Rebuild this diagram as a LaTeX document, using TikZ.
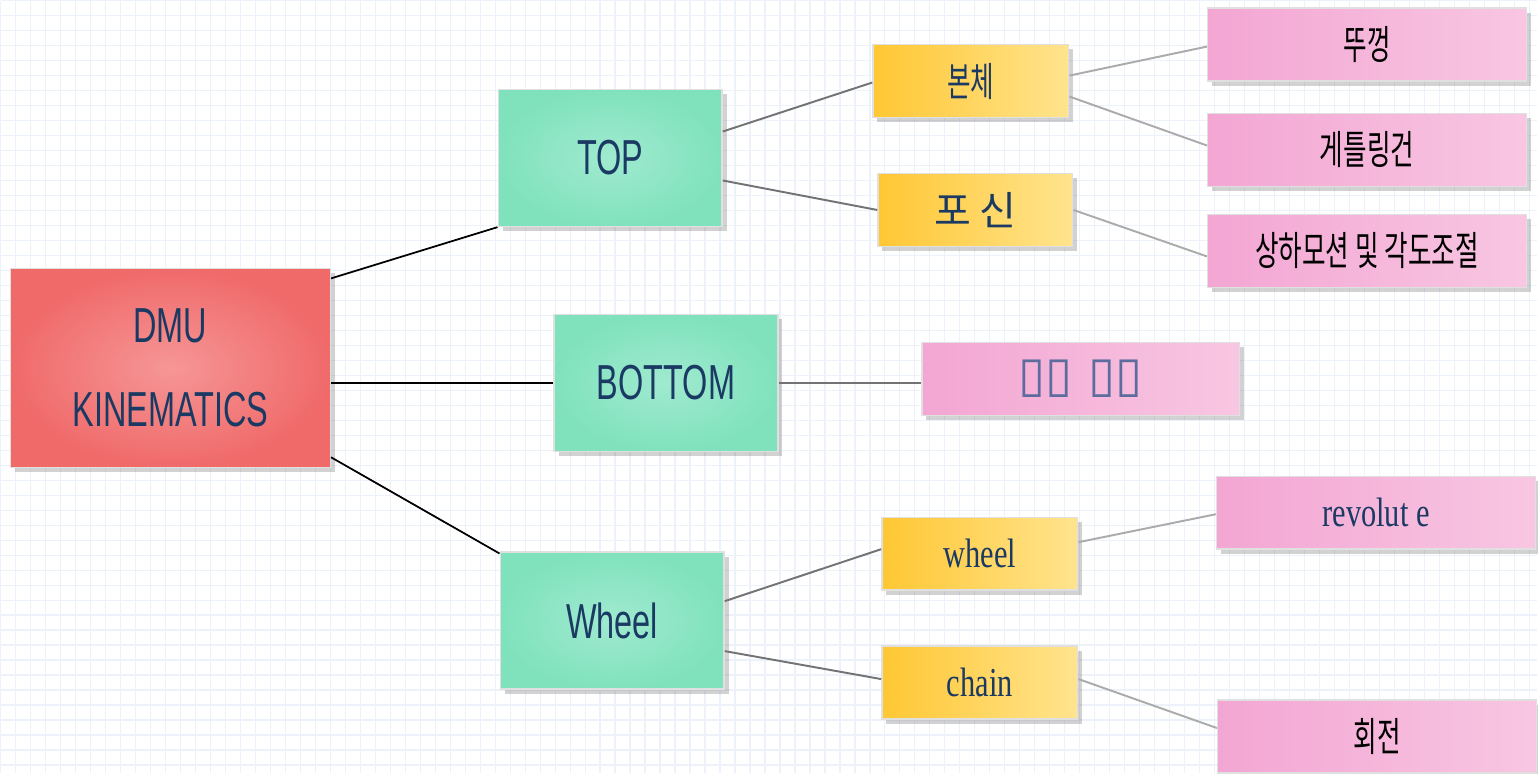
\documentclass[tikz,border=0pt]{standalone}
\usepackage{fontspec}
\usepackage{tikz}
\usetikzlibrary{shadows}
\newfontfamily\condsans[FakeStretch=0.66]{Liberation Sans}
\newfontfamily\condserif[FakeStretch=0.74]{Liberation Serif}
\newfontfamily\kr{Noto Sans CJK KR}
\newfontfamily\krcond[FakeStretch=0.64]{Noto Sans CJK KR}
\newfontfamily\symb{DejaVu Sans}

\definecolor{navy}{HTML}{1B3A63}
\definecolor{redA}{HTML}{F06A6A}
\definecolor{redB}{HTML}{F69696}
\definecolor{tealA}{HTML}{80E2BD}
\definecolor{tealB}{HTML}{A0EAD0}
\definecolor{yelA}{HTML}{FFC733}
\definecolor{yelB}{HTML}{FFE48E}
\definecolor{pinkA}{HTML}{F3A6D3}
\definecolor{pinkB}{HTML}{F8C6E2}
\definecolor{gridc}{HTML}{EDF1FA}
\definecolor{tofuc}{HTML}{5C6C9C}

\tikzset{
	box/.style={inner sep=0pt, draw=black!12, line width=0.4pt,
		drop shadow={shadow xshift=0.045cm, shadow yshift=-0.045cm, opacity=0.25, fill=black!70}},
	rootbox/.style={box, minimum width=3.2cm, minimum height=1.99cm, inner color=redB, outer color=redA,
		text=navy, align=center, font=\condsans\fontsize{14}{24}\selectfont},
	groupbox/.style={box, minimum width=2.24cm, minimum height=1.37cm, inner color=tealB, outer color=tealA,
		text=navy, font=\condsans\fontsize{14}{17}\selectfont},
	partbox/.style={box, minimum width=1.96cm, minimum height=0.73cm, left color=yelA, right color=yelB,
		text=navy},
	leafbox/.style={box, minimum width=3.19cm, minimum height=0.73cm, left color=pinkA, right color=pinkB,
		text=black, font=\krcond\fontsize{11.4}{14}\selectfont},
	link/.style={line width=0.5pt, black},
	sublink/.style={line width=0.55pt, black!55},
	leaflink/.style={line width=0.55pt, black!33}
}

\begin{document}
\begin{tikzpicture}
		%%%%% START %%%%%
		
		\fill[white] (0, 0) rectangle (15.38, -7.73);
		\draw[gridc, line width=0.35pt, step=0.15] (0, 0) grid (15.38, -7.73);
		\useasboundingbox (0, 0) rectangle (15.38, -7.73);
		
		\node[rootbox] (dmu) at (1.70, -3.675) {DMU\\KINEMATICS};
		
		\node[groupbox] (top) at (6.10, -1.575) {TOP};
		\node[groupbox] (bottom) at (6.66, -3.825) {BOTTOM};
		\node[groupbox] (wheelset) at (6.12, -6.205) {Wheel};
		
		\node[partbox, font=\krcond\fontsize{11.4}{14}\selectfont] (body) at (9.71, -0.805) {본체};
		\node[partbox, minimum width=1.95cm, font=\kr\fontsize{11.4}{14}\selectfont] (barrel) at (9.755, -2.095) {포 신};
		\node[partbox, font=\condserif\fontsize{11.7}{14}\selectfont] (wheel) at (9.80, -5.535) {wheel};
		\node[partbox, font=\condserif\fontsize{11.7}{14}\selectfont] (chain) at (9.80, -6.825) {chain};
		
		\node[leafbox] (lid) at (13.675, -0.44) {뚜껑};
		\node[leafbox] (gatling) at (13.675, -1.495) {게틀링건};
		\node[leafbox] (tilt) at (13.675, -2.505) {상하모션 및 각도조절};
		\node[leafbox, minimum width=3.18cm, text=tofuc, font=\symb\fontsize{14}{16}\selectfont] (tofu) at (10.81, -3.785) {▯▯ ▯▯};
		\node[leafbox, text=navy, font=\condserif\fontsize{11.7}{14}\selectfont] (revolute) at (13.765, -5.125) {revolut e};
		\node[leafbox] (rotate) at (13.775, -7.365) {회전};
		
		% first level
		\draw[link] ([yshift=0.895cm]dmu.east) -- (top.south west);
		\draw[link] (bottom.west) -- (bottom.west -| dmu.east);
		\draw[link] ([yshift=-0.895cm]dmu.east) -- ([yshift=-0.02cm]wheelset.north west);
		
		% second level
		\draw[sublink] ([yshift=0.265cm]top.east) -- ([yshift=-0.015cm]body.west);
		\draw[sublink] ([yshift=-0.225cm]top.east) -- (barrel.west);
		\draw[sublink] (bottom.east) -- (bottom.east -| tofu.west);
		\draw[sublink] ([yshift=0.195cm]wheelset.east) -- ([yshift=0.045cm]wheel.west);
		\draw[sublink] ([yshift=-0.305cm]wheelset.east) -- ([yshift=0.035cm]chain.west);
		
		% third level
		\draw[leaflink] ([yshift=0.055cm]body.east) -- ([yshift=-0.02cm]lid.west);
		\draw[leaflink] ([yshift=-0.155cm]body.east) -- ([yshift=0.045cm]gatling.west);
		\draw[leaflink] (barrel.east) -- ([yshift=-0.055cm]tilt.west);
		\draw[leaflink] ([yshift=0.115cm]wheel.east) -- ([yshift=-0.015cm]revolute.west);
		\draw[leaflink] ([yshift=0.035cm]chain.east) -- ([yshift=0.085cm]rotate.west);
		
		%%%%% END %%%%%
	\end{tikzpicture}
\end{document}
